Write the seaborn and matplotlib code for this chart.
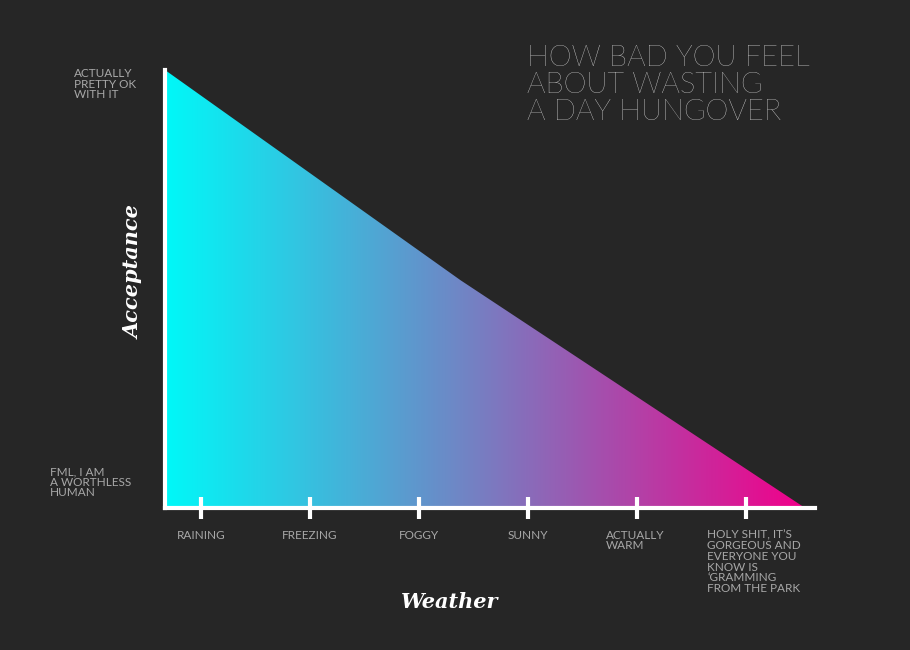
import numpy as np
import matplotlib
matplotlib.use("Agg")
import matplotlib.pyplot as plt
import seaborn as sns
from matplotlib.colors import LinearSegmentedColormap
from matplotlib.patches import Polygon

sns.set_style("dark")
plt.rcParams['font.family'] = ['Lato', 'DejaVu Sans']

weather = ["RAINING", "FREEZING", "FOGGY", "SUNNY", "ACTUALLY\nWARM",
           "HOLY SHIT, IT\u2019S\nGORGEOUS AND\nEVERYONE YOU\nKNOW IS\n\u2018GRAMMING\nFROM THE PARK"]
tick_pos = [1, 2, 3, 4, 5, 6]
curve_x = [0.67, 3.38, 6.54]
curve_y = [1.0, 0.52, 0.0]
y_labels = ["FML, I AM\nA WORTHLESS\nHUMAN", "ACTUALLY\nPRETTY OK\nWITH IT"]

bg = "#262626"
fig = plt.figure(figsize=(9.1, 6.5), dpi=100, facecolor=bg)
ax = fig.add_axes([165/910, (650-508)/650, (815-165)/910, (508-70)/650])
ax.set_facecolor(bg)
x0, x1 = 0.67, 6.63
ax.set_xlim(x0, x1); ax.set_ylim(0, 1)

cmap = LinearSegmentedColormap.from_list("g", ["#00f8f8", "#f2008a"])
grad = np.linspace(0, 1, 512).reshape(1, -1)
im = ax.imshow(grad, cmap=cmap, aspect='auto', extent=[curve_x[0], curve_x[-1], 0, 1], zorder=1)
poly = Polygon(list(zip(curve_x, curve_y)) + [(curve_x[0], 0)], closed=True, transform=ax.transData)
im.set_clip_path(poly)

for s in ["top", "right"]:
    ax.spines[s].set_visible(False)
for s in ["left", "bottom"]:
    ax.spines[s].set_visible(True)
    ax.spines[s].set_color("white"); ax.spines[s].set_linewidth(3); ax.spines[s].set_zorder(3)
ax.set_xticks(tick_pos)
ax.set_xticklabels([])
ax.set_yticks([])
for t in tick_pos:
    ax.plot([t, t], [-0.025, 0.025], color="white", lw=3, clip_on=False, zorder=4, solid_capstyle='butt')
for t, lab in zip(tick_pos, weather):
    ha = "left" if t == 6 else "center"
    xx = t - 0.36 if t == 6 else t
    if t == 5: ha, xx = "left", t - 0.29
    ax.text(xx, -0.05, lab, ha=ha, va="top", color="#a8a8a8", fontsize=8.5, linespacing=0.95)
fig.text(50/910, 1-466/650, y_labels[0], ha="left", va="top", color="#a8a8a8", fontsize=8.5, linespacing=0.95)
fig.text(74/910, 1-68/650, y_labels[1], ha="left", va="top", color="#a8a8a8", fontsize=8.5, linespacing=0.95)

fig.text(450/910, 1-602/650, "Weather", ha="center", va="center", color="white",
         fontsize=15, family="DejaVu Serif", weight="bold", style="italic")
fig.text(134/910, 1-272/650, "Acceptance", ha="center", va="center", color="white", rotation=90,
         fontsize=15, family="DejaVu Serif", weight="bold", style="italic")
fig.text(527/910, 1-45/650, "HOW BAD YOU FEEL\nABOUT WASTING\nA DAY HUNGOVER", ha="left", va="top",
         color="white", fontsize=21, weight="light", linespacing=1.05)

fig.savefig("out.png", dpi=100, facecolor=bg)
